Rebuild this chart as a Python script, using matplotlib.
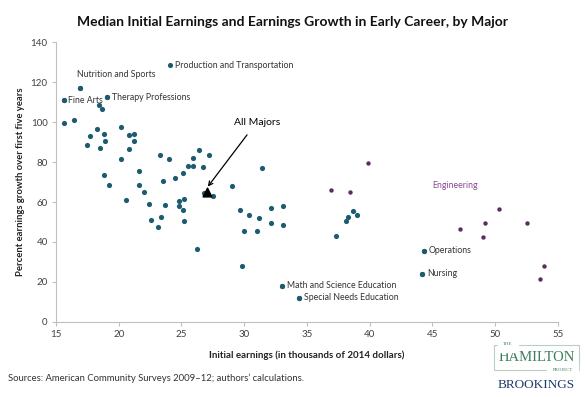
import matplotlib.pyplot as plt
from matplotlib.patches import Rectangle

plt.rcParams['font.family'] = ['Lato', 'DejaVu Sans']

# majors (teal), thousands of 2014 dollars vs percent growth
teal_x = [15.6, 15.6, 16.4, 16.9, 19.1, 18.4, 18.7, 18.3, 20.2, 17.7,
          18.8, 20.8, 21.2, 18.9, 21.2, 17.5, 18.5, 20.8, 20.2, 23.3,
          24.0, 26.4, 27.2, 25.9, 25.5, 25.9, 26.7, 25.1, 24.5, 23.5,
          29.0, 31.4, 18.8, 19.2, 21.6, 21.6, 22.0, 20.6, 22.4, 23.7,
          24.8, 24.8, 23.4, 22.6, 23.1, 26.8, 27.5, 25.2, 25.1, 25.2,
          29.7, 30.4, 31.2, 32.1, 33.1, 32.1, 33.1, 30.0, 31.0, 26.2,
          29.8, 33.0, 34.4, 44.3, 44.2, 38.7, 38.3, 39.0, 38.1, 37.3]
teal_y = [111.0, 99.5, 100.8, 117.2, 112.3, 108.7, 106.7, 96.5, 97.5, 93.2,
          93.8, 93.5, 94.0, 90.7, 90.3, 88.3, 87.2, 86.3, 81.5, 83.3,
          81.5, 86.0, 83.3, 81.8, 78.2, 78.2, 77.5, 74.7, 72.2, 70.7,
          68.2, 76.8, 73.7, 68.3, 75.7, 68.3, 65.2, 61.2, 59.0, 58.5,
          60.7, 58.2, 52.5, 51.0, 47.3, 64.5, 62.8, 61.5, 56.2, 50.7,
          56.0, 53.7, 52.2, 56.8, 57.8, 49.5, 48.3, 45.7, 45.7, 36.3,
          28.2, 18.0, 12.0, 35.7, 24.2, 55.7, 52.7, 53.5, 50.3, 42.8]

# engineering majors (purple)
eng_x = [39.9, 36.9, 38.4, 50.3, 49.2, 52.5, 47.2, 49.0, 53.9, 53.6]
eng_y = [79.5, 66.0, 65.2, 56.3, 49.3, 49.3, 46.3, 42.7, 28.0, 21.5]

all_majors = (27.0, 65.2)

labels = ['Fine Arts', 'Nutrition and Sports', 'Therapy Professions',
          'Production and Transportation', 'Math and Science Education',
          'Special Needs Education', 'Operations', 'Nursing']
label_x = [15.6, 16.9, 19.1, 24.1, 33.0, 34.4, 44.3, 44.2]
label_y = [111.0, 117.2, 112.3, 128.5, 18.0, 12.0, 35.7, 24.2]

teal = '#1d5c6e'
purple = '#5a2c5f'

fig = plt.figure(figsize=(5.85, 3.97), dpi=100)
ax = fig.add_axes([0.0957, 0.189, 0.858, 0.705])

ax.scatter(teal_x, teal_y, s=14, color=teal, linewidths=0, zorder=3)
ax.scatter(eng_x, eng_y, s=10, color=purple, linewidths=0, zorder=3)
ax.scatter(label_x, label_y, s=14, color=teal, linewidths=0, zorder=3)
ax.scatter([all_majors[0]], [all_majors[1]], marker='^', s=40, color='black', zorder=4)

for lab, x, y in zip(labels, label_x, label_y):
    if lab == 'Nutrition and Sports':
        ax.annotate(lab, (x, y), xytext=(-2, 6), textcoords='offset points',
                    fontsize=6.3, color='#333333', va='bottom', ha='left')
    else:
        ax.annotate(lab, (x, y), xytext=(3.5, 0), textcoords='offset points',
                    fontsize=6.3, color='#333333', va='center', ha='left')

ax.text(45.0, 68.5, 'Engineering', fontsize=6.3, color='#8a4a93', va='center')

ax.annotate('All Majors', xy=(all_majors[0] + 0.1, all_majors[1] + 2.5),
            xytext=(31.0, 100), fontsize=7.5, color='black', ha='center', va='center',
            arrowprops=dict(arrowstyle='->', color='black', lw=0.9,
                            shrinkA=5, shrinkB=0))

ax.set_xlim(15, 55)
ax.set_ylim(0, 140)
ax.set_xticks(range(15, 56, 5))
ax.set_yticks(range(0, 141, 20))
for s in ['top', 'right']:
    ax.spines[s].set_visible(False)
for s in ['left', 'bottom']:
    ax.spines[s].set_color('#bfbfbf')
    ax.spines[s].set_linewidth(0.8)
ax.tick_params(axis='both', length=3, width=0.8, color='#bfbfbf',
               labelsize=7, labelcolor='#404040', pad=3)

ax.set_xlabel('Initial earnings (in thousands of 2014 dollars)', fontsize=7,
              fontweight='bold', color='#222222', labelpad=8)
ax.set_ylabel('Percent earnings growth over first five years', fontsize=6.8,
              fontweight='bold', color='#222222', labelpad=4)

fig.text(0.5, 0.945, 'Median Initial Earnings and Earnings Growth in Early Career, by Major',
         fontsize=10, fontweight='bold', ha='center', va='center', color='#111111')

fig.text(0.013, 0.048, 'Sources: American Community Surveys 2009\u201312; authors\u2019 calculations.',
         fontsize=6.8, color='#333333', va='center')

# logo
green = '#3b7f5e'
fig.patches.append(Rectangle((0.845, 0.068), 0.145, 0.064, transform=fig.transFigure,
                             fill=False, edgecolor='#b9cfc0', linewidth=0.8))
fig.text(0.917, 0.099, 'HAMILTON', fontsize=10.5, family='Liberation Serif', color=green,
         ha='center', va='center')
fig.text(0.868, 0.133, 'THE', fontsize=3.5, family='Liberation Serif', color=green,
         ha='center', va='center', backgroundcolor='white')
fig.text(0.962, 0.068, 'PROJECT', fontsize=3.5, family='Liberation Serif', color=green,
         ha='center', va='center', backgroundcolor='white')
fig.text(0.917, 0.03, 'BROOKINGS', fontsize=9.5, family='Liberation Serif', color='#1f3a68',
         ha='center', va='center')

fig.savefig('out.png', dpi=100)
